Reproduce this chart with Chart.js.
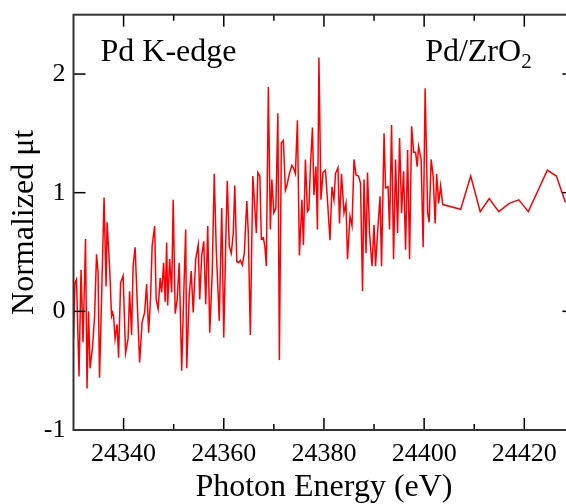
<!DOCTYPE html>
<html>
<head>
<meta charset="utf-8">
<script src="https://cdn.jsdelivr.net/npm/chart.js@4/dist/chart.umd.min.js"></script>
<style>
html,body{margin:0;padding:0;background:#fff;overflow:hidden;}
#wrap{width:566px;height:504px;overflow:hidden;position:relative;}
canvas{display:block;}
</style>
</head>
<body>
<div id="wrap"><canvas id="c" width="590" height="504"></canvas></div>
<script>
// Photon energy (eV)
const energy = [
24330.0,24330.3,24330.6,24331.1,24331.5,24331.9,24332.4,24332.7,24333.0,24333.3,
24333.8,24334.2,24334.6,24334.9,24335.2,24335.6,24336.1,24336.5,24336.7,24337.2,
24337.6,24337.8,24338.0,24338.3,24338.7,24339.0,24339.4,24339.9,24340.4,24340.9,
24341.2,24341.6,24341.9,24342.3,24342.7,24343.2,24343.7,24344.2,24344.6,24345.0,
24345.4,24345.7,24346.2,24346.5,24346.9,24347.3,24347.6,24348.0,24348.3,24348.6,
24348.8,24349.2,24349.6,24349.9,24350.3,24350.7,24351.1,24351.6,24352.0,24352.4,
24352.6,24353.1,24353.5,24353.9,24354.4,24354.9,24355.2,24355.6,24356.0,24356.4,
24356.8,24357.2,24357.7,24358.1,24358.5,24359.1,24359.6,24360.0,24360.4,24360.7,
24361.1,24361.5,24361.9,24362.2,24362.6,24363.0,24363.3,24363.7,24364.1,24364.6,
24364.9,24365.3,24365.8,24366.1,24366.5,24366.8,24367.2,24367.5,24367.9,24368.2,
24368.5,24368.9,24369.3,24369.6,24370.0,24370.4,24370.8,24371.1,24371.5,24371.9,
24372.3,24372.6,24373.1,24373.6,24373.9,24374.3,24374.7,24375.1,24375.6,24375.9,
24376.3,24376.7,24377.0,24377.3,24377.7,24378.0,24378.4,24378.7,24379.0,24379.4,
24379.8,24380.3,24380.7,24381.2,24381.6,24382.0,24382.3,24382.8,24383.1,24383.5,
24384.0,24384.4,24384.7,24385.2,24385.6,24386.0,24386.4,24386.9,24387.3,24387.7,
24388.0,24388.4,24388.7,24389.1,24389.6,24390.0,24390.3,24390.7,24391.2,24391.5,
24392.0,24392.3,24392.8,24393.1,24393.5,24393.9,24394.3,24394.7,24395.1,24395.5,
24395.9,24396.3,24396.7,24397.1,24397.5,24397.9,24398.3,24398.6,24398.9,24399.4,
24399.8,24400.2,24400.7,24401.0,24401.4,24401.8,24402.2,24402.5,24402.9,24403.3,
24403.7,24407.3,24409.3,24411.2,24413.0,24414.9,24417.0,24418.9,24420.8,24424.6,
24426.4,24428.2
];
// Normalized mu*t
const mu = [
-0.23,0.24,0.27,-0.55,0.35,-0.26,0.61,-0.65,0.00,-0.48,
-0.30,-0.05,0.48,0.33,-0.56,0.10,0.96,0.21,0.75,0.38,
-0.04,-0.01,-0.04,-0.23,-0.11,-0.39,0.24,0.30,-0.35,-0.23,
0.17,-0.20,0.38,0.54,0.10,-0.43,-0.09,-0.01,0.23,-0.18,
0.13,0.55,0.72,0.10,0.02,0.28,0.16,0.41,0.08,0.58,
0.05,0.44,0.16,0.94,-0.02,0.10,0.41,-0.50,0.13,0.69,
-0.48,0.13,0.34,-0.01,0.44,0.56,0.10,0.47,0.59,0.06,
0.72,-0.18,0.33,1.16,0.52,-0.08,0.87,-0.22,0.60,1.10,
0.55,0.49,0.66,1.06,0.42,0.41,0.43,0.39,0.49,0.93,
0.66,-0.20,1.14,0.94,0.66,1.17,1.14,0.61,0.62,0.55,
0.38,1.89,0.69,1.11,0.83,0.87,1.67,-0.41,1.42,1.44,
1.02,1.06,1.16,1.23,1.21,1.16,1.61,0.47,0.94,0.56,
1.28,0.84,0.86,1.22,1.55,0.98,1.22,0.69,2.14,0.94,
1.17,1.19,0.94,0.60,1.05,0.94,1.16,1.21,0.74,1.16,
0.83,0.91,0.44,0.80,0.72,1.28,1.15,1.14,1.08,0.17,
1.11,0.49,1.17,0.66,0.38,0.73,0.38,0.66,0.97,0.38,
1.50,1.04,1.05,0.69,1.57,0.44,1.28,0.66,1.46,0.83,
1.18,0.52,1.36,0.44,1.56,1.34,1.34,1.22,1.39,1.28,
0.54,1.88,0.83,0.75,1.28,1.14,0.74,1.16,0.91,1.06,
0.90,0.86,1.14,0.84,0.95,0.84,0.91,0.94,0.84,1.19,
1.14,0.92
];
const xTickLabels = [24340, 24360, 24380, 24400, 24420];
const xMinorTicks = [24350, 24370, 24390, 24410];
const yTickLabels = [-1, 0, 1, 2];
const xRange = [24330, 24430];
const yRange = [-1, 2.5];

const SERIF = "'Liberation Serif','Times New Roman',serif";

const framePlugin = {
  id: 'frame',
  afterDraw(chart) {
    const {ctx, chartArea: a, scales: {x, y}} = chart;
    ctx.save();
    const seg = (x1, y1, x2, y2) => { ctx.beginPath(); ctx.moveTo(x1, y1); ctx.lineTo(x2, y2); ctx.stroke(); };
    ctx.strokeStyle = '#000';
    ctx.lineWidth = 1.5;
    xTickLabels.forEach(v => {
      const p = x.getPixelForValue(v);
      seg(p, a.bottom, p, a.bottom - 12);
      seg(p, a.top, p, a.top + 12);
    });
    xMinorTicks.forEach(v => {
      const p = x.getPixelForValue(v);
      seg(p, a.bottom, p, a.bottom - 6);
      seg(p, a.top, p, a.top + 6);
    });
    yTickLabels.forEach(v => {
      const p = y.getPixelForValue(v);
      seg(a.left, p, a.left + 12, p);
      seg(a.right, p, a.right - 12, p);
    });
    ctx.strokeStyle = '#333';
    ctx.lineWidth = 2;
    ctx.strokeRect(a.left, a.top, a.right - a.left, a.bottom - a.top);

    ctx.fillStyle = '#000';
    ctx.textBaseline = 'alphabetic';
    ctx.textAlign = 'left';
    ctx.font = '32px ' + SERIF;
    const by = y.getPixelForValue(2.11);
    ctx.fillText('Pd K-edge', x.getPixelForValue(24335.4), by);
    const px = x.getPixelForValue(24400.2);
    const main = 'Pd/ZrO';
    ctx.fillText(main, px, by);
    const w = ctx.measureText(main).width;
    ctx.font = '21px ' + SERIF;
    ctx.fillText('2', px + w, by + 7);
    ctx.restore();
  }
};

new Chart(document.getElementById('c'), {
  type: 'line',
  data: {
    datasets: [{
      data: energy.map((e, i) => ({x: e, y: mu[i]})),
      borderColor: '#ff0000',
      borderWidth: 1.5,
      pointRadius: 0,
      tension: 0,
      fill: false
    }]
  },
  options: {
    responsive: false,
    animation: false,
    layout: {padding: {left: 0, top: 14.7, right: 15.6, bottom: 0}},
    plugins: {legend: {display: false}, tooltip: {enabled: false}},
    scales: {
      x: {
        type: 'linear',
        min: xRange[0], max: xRange[1],
        afterBuildTicks: s => { s.ticks = xTickLabels.map(v => ({value: v})); },
        afterFit: s => { s.height = 74; s.paddingLeft = 0; s.paddingRight = 0; },
        grid: {display: false, drawTicks: false},
        border: {display: false},
        ticks: {
          color: '#000', padding: 9, maxRotation: 0, autoSkip: false,
          font: {family: SERIF, size: 26},
          callback: v => String(v)
        },
        title: {display: true, text: 'Photon Energy (eV)', color: '#000',
          font: {family: SERIF, size: 32, lineHeight: 1}, padding: {top: 2, bottom: 0}}
      },
      y: {
        min: yRange[0], max: yRange[1],
        afterBuildTicks: s => { s.ticks = yTickLabels.map(v => ({value: v})); },
        afterFit: s => { s.width = 73.5; s.paddingTop = 0; s.paddingBottom = 0; },
        grid: {display: false, drawTicks: false},
        border: {display: false},
        ticks: {
          color: '#000', padding: 8,
          font: {family: SERIF, size: 26},
          callback: v => String(v)
        },
        title: {display: true, text: 'Normalized μt', color: '#000',
          font: {family: SERIF, size: 32, lineHeight: 1}, padding: {top: 9, bottom: 0}}
      }
    }
  },
  plugins: [framePlugin]
});
</script>
</body>
</html>
